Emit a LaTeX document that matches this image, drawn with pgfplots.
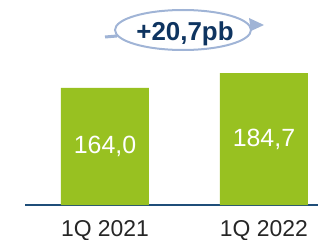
\documentclass[border=0pt]{standalone}
\usepackage{pgfplots}
\pgfplotsset{compat=1.18}
\usepackage{fontspec}
\setmainfont{Liberation Sans}
\definecolor{bargreen}{RGB}{152,193,33}
\definecolor{axblue}{RGB}{31,78,121}
\definecolor{navy}{RGB}{14,52,96}
\definecolor{ell}{RGB}{160,180,214}
\begin{document}
\begin{tikzpicture}[x=1bp,y=1bp]
\path[use as bounding box] (0,0) rectangle (318,240);
\begin{axis}[
 at={(25bp,35bp)}, anchor=south west, scale only axis,
 width=293bp, height=195bp,
 xmin=-0.503, xmax=1.340, ymin=0, ymax=273.3,
 axis x line*=bottom, hide y axis,
 x axis line style={draw=axblue, line width=1.5bp},
 xtick={0,1}, xticklabels={1Q 2021,1Q 2022},
 major tick length=0pt,
 xticklabel style={anchor=base, inner sep=0pt, yshift=-31bp, font=\fontsize{23}{27}\selectfont, text=black!85},
 clip=false,
]
\addplot[ybar, bar width=88bp, fill=bargreen, draw=none,
  point meta=y,
  visualization depends on={rawy \as \rawy},
  nodes near coords={\pgfmathprintnumber[fixed,zerofill,precision=1,use comma,assume math mode=true]{\pgfplotspointmeta}},
  every node near coord/.append style={anchor=center, text=white, font=\fontsize{25}{29}\selectfont, shift={(axis direction cs:0,-\rawy/2)}},
  ]
 coordinates {(0,164.0) (1,184.7)};
\end{axis}
\draw[ell, line width=2bp] (183,210) ellipse [x radius=68bp, y radius=20bp];
\draw[ell, line width=3bp] (105,203) -- (117,204);
\fill[ell] (249,222) -- (264,215) -- (251,209) -- cycle;
\node[text=navy, anchor=base, inner sep=0pt, font=\bfseries\fontsize{26}{30}\selectfont] at (185,200) {+20,7pb};
\end{tikzpicture}
\end{document}
